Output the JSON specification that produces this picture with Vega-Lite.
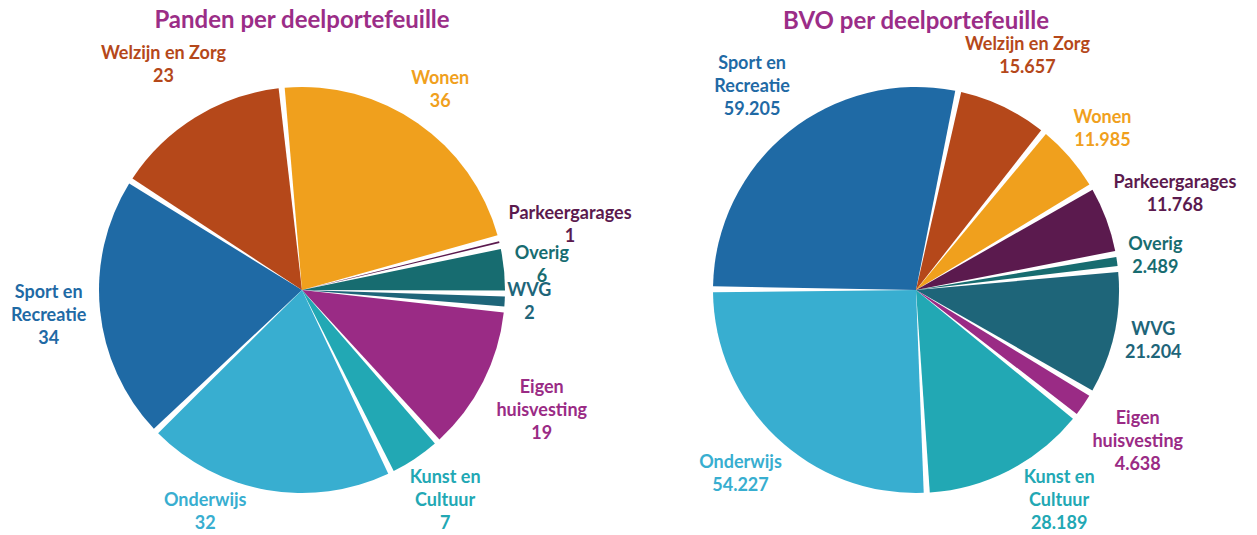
{
  "$schema": "https://vega.github.io/schema/vega-lite/v6.json",
  "padding": {"top": 8, "left": 0, "right": 0, "bottom": 0},
  "spacing": 2,
  "bounds": "flush",
  "config": {
    "view": {"stroke": null},
    "title": {"font": "Lato", "fontSize": 24, "fontWeight": "bold", "color": "#9B2D87", "offset": 12, "anchor": "middle", "frame": "group"}
  },
  "datasets": {
    "panden": [
      {"k": 1, "cat": "Sport en Recreatie", "label": "Sport en\nRecreatie\n34", "value": 34},
      {"k": 2, "cat": "Welzijn en Zorg", "label": "Welzijn en Zorg\n23", "value": 23},
      {"k": 3, "cat": "Wonen", "label": "Wonen\n36", "value": 36},
      {"k": 4, "cat": "Parkeergarages", "label": "Parkeergarages\n1", "value": 1},
      {"k": 5, "cat": "Overig", "label": "Overig\n6", "value": 6},
      {"k": 6, "cat": "WVG", "label": "WVG\n2", "value": 2},
      {"k": 7, "cat": "Eigen huisvesting", "label": "Eigen\nhuisvesting\n19", "value": 19},
      {"k": 8, "cat": "Kunst en Cultuur", "label": "Kunst en\nCultuur\n7", "value": 7},
      {"k": 9, "cat": "Onderwijs", "label": "Onderwijs\n32", "value": 32}
    ],
    "bvo": [
      {"k": 1, "cat": "Sport en Recreatie", "label": "Sport en\nRecreatie\n59.205", "value": 59205},
      {"k": 2, "cat": "Welzijn en Zorg", "label": "Welzijn en Zorg\n15.657", "value": 15657},
      {"k": 3, "cat": "Wonen", "label": "Wonen\n11.985", "value": 11985},
      {"k": 4, "cat": "Parkeergarages", "label": "Parkeergarages\n11.768", "value": 11768},
      {"k": 5, "cat": "Overig", "label": "Overig\n2.489", "value": 2489},
      {"k": 6, "cat": "WVG", "label": "WVG\n21.204", "value": 21204},
      {"k": 7, "cat": "Eigen huisvesting", "label": "Eigen\nhuisvesting\n4.638", "value": 4638},
      {"k": 8, "cat": "Kunst en Cultuur", "label": "Kunst en\nCultuur\n28.189", "value": 28189},
      {"k": 9, "cat": "Onderwijs", "label": "Onderwijs\n54.227", "value": 54227}
    ]
  },
  "hconcat": [
    {
      "title": "Panden per deelportefeuille",
      "width": 604,
      "height": 490,
      "data": {"name": "panden"},
      "transform": [{"joinaggregate": [{"op": "sum", "field": "value", "as": "total"}]}],
      "encoding": {
        "theta": {"field": "value", "type": "quantitative", "stack": true, "scale": {"range": [3.9444, 10.2276]}},
        "order": {"field": "k", "type": "quantitative"},
        "color": {"field": "cat", "type": "nominal", "legend": null,
          "scale": {"domain": ["Sport en Recreatie", "Welzijn en Zorg", "Wonen", "Parkeergarages", "Overig", "WVG", "Eigen huisvesting", "Kunst en Cultuur", "Onderwijs"],
                    "range": ["#1F6AA5", "#B5481A", "#F0A01D", "#5B1A4E", "#176C70", "#1E6579", "#9A2B85", "#22A8B4", "#38AED0"]}}
      },
      "layer": [
        {"mark": {"type": "arc", "radius": 203, "padAngle": 0.03}},
        {
          "mark": {"type": "text", "font": "Lato", "fontWeight": "bold", "fontSize": 18, "lineHeight": 23, "lineBreak": "\n", "align": "center", "baseline": "middle",
            "radius": {"expr": "214 + 4.2*max(length(split(datum.label, '\\n')[0]), length(split(datum.label, '\\n')[1] || ''), length(split(datum.label, '\\n')[2] || ''))*abs(sin(3.9444 + PI*(datum.value_start + datum.value_end)/datum.total)) + 10*length(split(datum.label, '\\n'))*abs(cos(3.9444 + PI*(datum.value_start + datum.value_end)/datum.total))"},
            "dx": {"expr": "(-(214 + 4.2*max(length(split(datum.label, '\\n')[0]), length(split(datum.label, '\\n')[1] || ''), length(split(datum.label, '\\n')[2] || ''))*abs(sin(3.9444 + PI*(datum.value_start + datum.value_end)/datum.total)) + 10*length(split(datum.label, '\\n'))*abs(cos(3.9444 + PI*(datum.value_start + datum.value_end)/datum.total)))*cos(3.9444 + PI*(datum.value_start + datum.value_end)/datum.total)) > (234 - 11.5*(length(split(datum.label, '\\n')) - 1)) ? (sin(3.9444 + PI*(datum.value_start + datum.value_end)/datum.total) < 0 ? -1 : 1)*(4.2*max(length(split(datum.label, '\\n')[0]), length(split(datum.label, '\\n')[1] || ''), length(split(datum.label, '\\n')[2] || '')) + sqrt(max(43681 - pow(234 - 11.5*(length(split(datum.label, '\\n')) - 1) - 11*length(split(datum.label, '\\n')), 2), 0))) - (214 + 4.2*max(length(split(datum.label, '\\n')[0]), length(split(datum.label, '\\n')[1] || ''), length(split(datum.label, '\\n')[2] || ''))*abs(sin(3.9444 + PI*(datum.value_start + datum.value_end)/datum.total)) + 10*length(split(datum.label, '\\n'))*abs(cos(3.9444 + PI*(datum.value_start + datum.value_end)/datum.total)))*sin(3.9444 + PI*(datum.value_start + datum.value_end)/datum.total) : 0"},
            "dy": {"expr": "-11.5*(length(split(datum.label, '\\n')) - 1) + ((-(214 + 4.2*max(length(split(datum.label, '\\n')[0]), length(split(datum.label, '\\n')[1] || ''), length(split(datum.label, '\\n')[2] || ''))*abs(sin(3.9444 + PI*(datum.value_start + datum.value_end)/datum.total)) + 10*length(split(datum.label, '\\n'))*abs(cos(3.9444 + PI*(datum.value_start + datum.value_end)/datum.total)))*cos(3.9444 + PI*(datum.value_start + datum.value_end)/datum.total)) > (234 - 11.5*(length(split(datum.label, '\\n')) - 1)) ? (234 - 11.5*(length(split(datum.label, '\\n')) - 1)) + (214 + 4.2*max(length(split(datum.label, '\\n')[0]), length(split(datum.label, '\\n')[1] || ''), length(split(datum.label, '\\n')[2] || ''))*abs(sin(3.9444 + PI*(datum.value_start + datum.value_end)/datum.total)) + 10*length(split(datum.label, '\\n'))*abs(cos(3.9444 + PI*(datum.value_start + datum.value_end)/datum.total)))*cos(3.9444 + PI*(datum.value_start + datum.value_end)/datum.total) : 0)"}},
          "encoding": {"text": {"field": "label", "type": "nominal"}}
        }
      ]
    },
    {
      "title": {"text": "BVO per deelportefeuille", "dy": 10},
      "width": 620,
      "height": 490,
      "data": {"name": "bvo"},
      "transform": [{"joinaggregate": [{"op": "sum", "field": "value", "as": "total"}]}],
      "encoding": {
        "theta": {"field": "value", "type": "quantitative", "stack": true, "scale": {"range": [4.716, 10.9992]}},
        "order": {"field": "k", "type": "quantitative"},
        "color": {"field": "cat", "type": "nominal", "legend": null,
          "scale": {"domain": ["Sport en Recreatie", "Welzijn en Zorg", "Wonen", "Parkeergarages", "Overig", "WVG", "Eigen huisvesting", "Kunst en Cultuur", "Onderwijs"],
                    "range": ["#1F6AA5", "#B5481A", "#F0A01D", "#5B1A4E", "#176C70", "#1E6579", "#9A2B85", "#22A8B4", "#38AED0"]}}
      },
      "layer": [
        {"mark": {"type": "arc", "radius": 203, "padAngle": 0.03}},
        {
          "mark": {"type": "text", "font": "Lato", "fontWeight": "bold", "fontSize": 18, "lineHeight": 23, "lineBreak": "\n", "align": "center", "baseline": "middle",
            "radius": {"expr": "214 + 4.2*max(length(split(datum.label, '\\n')[0]), length(split(datum.label, '\\n')[1] || ''), length(split(datum.label, '\\n')[2] || ''))*abs(sin(4.716 + PI*(datum.value_start + datum.value_end)/datum.total)) + 10*length(split(datum.label, '\\n'))*abs(cos(4.716 + PI*(datum.value_start + datum.value_end)/datum.total))"},
            "dx": {"expr": "(-(214 + 4.2*max(length(split(datum.label, '\\n')[0]), length(split(datum.label, '\\n')[1] || ''), length(split(datum.label, '\\n')[2] || ''))*abs(sin(4.716 + PI*(datum.value_start + datum.value_end)/datum.total)) + 10*length(split(datum.label, '\\n'))*abs(cos(4.716 + PI*(datum.value_start + datum.value_end)/datum.total)))*cos(4.716 + PI*(datum.value_start + datum.value_end)/datum.total)) > (234 - 11.5*(length(split(datum.label, '\\n')) - 1)) ? (sin(4.716 + PI*(datum.value_start + datum.value_end)/datum.total) < 0 ? -1 : 1)*(4.2*max(length(split(datum.label, '\\n')[0]), length(split(datum.label, '\\n')[1] || ''), length(split(datum.label, '\\n')[2] || '')) + sqrt(max(43681 - pow(234 - 11.5*(length(split(datum.label, '\\n')) - 1) - 11*length(split(datum.label, '\\n')), 2), 0))) - (214 + 4.2*max(length(split(datum.label, '\\n')[0]), length(split(datum.label, '\\n')[1] || ''), length(split(datum.label, '\\n')[2] || ''))*abs(sin(4.716 + PI*(datum.value_start + datum.value_end)/datum.total)) + 10*length(split(datum.label, '\\n'))*abs(cos(4.716 + PI*(datum.value_start + datum.value_end)/datum.total)))*sin(4.716 + PI*(datum.value_start + datum.value_end)/datum.total) : 0"},
            "dy": {"expr": "-11.5*(length(split(datum.label, '\\n')) - 1) + ((-(214 + 4.2*max(length(split(datum.label, '\\n')[0]), length(split(datum.label, '\\n')[1] || ''), length(split(datum.label, '\\n')[2] || ''))*abs(sin(4.716 + PI*(datum.value_start + datum.value_end)/datum.total)) + 10*length(split(datum.label, '\\n'))*abs(cos(4.716 + PI*(datum.value_start + datum.value_end)/datum.total)))*cos(4.716 + PI*(datum.value_start + datum.value_end)/datum.total)) > (234 - 11.5*(length(split(datum.label, '\\n')) - 1)) ? (234 - 11.5*(length(split(datum.label, '\\n')) - 1)) + (214 + 4.2*max(length(split(datum.label, '\\n')[0]), length(split(datum.label, '\\n')[1] || ''), length(split(datum.label, '\\n')[2] || ''))*abs(sin(4.716 + PI*(datum.value_start + datum.value_end)/datum.total)) + 10*length(split(datum.label, '\\n'))*abs(cos(4.716 + PI*(datum.value_start + datum.value_end)/datum.total)))*cos(4.716 + PI*(datum.value_start + datum.value_end)/datum.total) : 0)"}},
          "encoding": {"text": {"field": "label", "type": "nominal"}}
        }
      ]
    }
  ],
  "resolve": {"scale": {"theta": "independent", "color": "shared"}}
}
